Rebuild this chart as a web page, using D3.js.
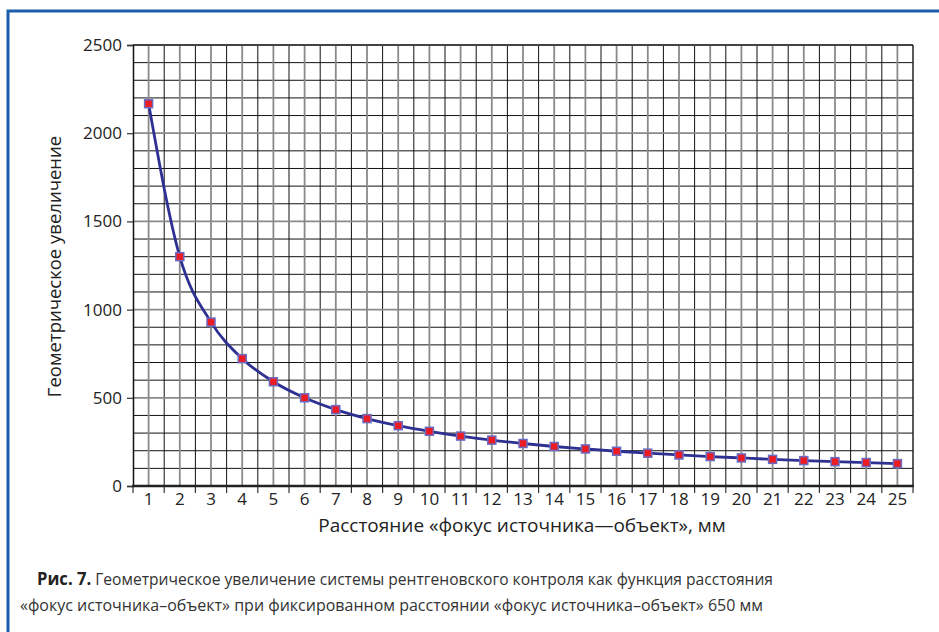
<!DOCTYPE html>
<html><head><meta charset="utf-8">
<script src="https://cdn.jsdelivr.net/npm/d3@7"></script>
<style>
html,body{margin:0;padding:0;background:#fff;}
svg{display:block;}
</style></head>
<body>
<svg id="chart" width="939" height="632"></svg>
<script>
const categories = d3.range(1, 26).map(String);
const magnification = [2167, 1300, 929, 722, 591, 500, 433, 382, 342, 310, 283, 260, 241, 224, 210, 197, 186, 176, 167, 159, 151, 144, 138, 133, 127];
const yTicks = [0, 500, 1000, 1500, 2000, 2500];
const yTitle = "Геометрическое увеличение";
const xTitle = "Расстояние «фокус источника—объект», мм";
const captionBold = "Рис. 7.";
const captionLine1 = " Геометрическое увеличение системы рентгеновского контроля как функция расстояния";
const captionLine2 = "«фокус источника–объект» при фиксированном расстоянии «фокус источника–объект» 650 мм";

const svg = d3.select("#chart");
const L = 133, R = 913, T = 45, B = 486;
const x = d3.scaleBand().domain(categories).range([L, R]).padding(0);
const y = d3.scaleLinear().domain([0, 2500]).range([B, T]);
const cx = d => x(d) + x.bandwidth() / 2;
const FONT = "'Open Sans', sans-serif";

// frame
svg.append("path").attr("d", `M8,640 L8,11 L945,11`).attr("fill", "none")
  .attr("stroke", "#1d5dab").attr("stroke-width", 3);

const g = svg.append("g");
const hvals = d3.range(0, 2501, 100);
g.selectAll("line.h").data(hvals.filter(v => v % 500 !== 0)).join("line")
  .attr("x1", L).attr("x2", R).attr("y1", d => y(d)).attr("y2", d => y(d))
  .attr("stroke", "#111").attr("stroke-width", 1);
const bounds = categories.map(c => x(c)).concat([R]);
g.selectAll("line.vb").data(bounds.slice(1, -1)).join("line")
  .attr("x1", d => d).attr("x2", d => d).attr("y1", T).attr("y2", B)
  .attr("stroke", "#111").attr("stroke-width", 1);
g.selectAll("line.vc").data(categories).join("line")
  .attr("x1", d => cx(d)).attr("x2", d => cx(d)).attr("y1", T).attr("y2", B)
  .attr("stroke", "#8a8a8a").attr("stroke-width", 1.8);
g.selectAll("line.hm").data(yTicks.filter(v => v !== 0 && v !== 2500)).join("line")
  .attr("x1", L).attr("x2", R).attr("y1", d => y(d)).attr("y2", d => y(d))
  .attr("stroke", "#8a8a8a").attr("stroke-width", 1.8);
g.append("line").attr("x1", L).attr("x2", R).attr("y1", T).attr("y2", T).attr("stroke", "#444").attr("stroke-width", 2);
g.append("line").attr("x1", R).attr("x2", R).attr("y1", T).attr("y2", B).attr("stroke", "#222").attr("stroke-width", 1.5);

// y axis
const yAxis = d3.axisLeft(y).tickValues(yTicks).tickFormat(d3.format("d")).tickSize(6).tickPadding(5);
const ya = svg.append("g").attr("transform", `translate(${L},0)`).call(yAxis);
ya.select(".domain").attr("stroke", "#111").attr("stroke-width", 1.5);
ya.selectAll(".tick line").attr("stroke", "#333").attr("stroke-width", 1.2);
ya.selectAll(".tick text").attr("font-family", FONT).attr("font-size", 17).attr("fill", "#222");

// x axis
const xAxis = d3.axisBottom(x).tickSize(0).tickPadding(7);
const xa = svg.append("g").attr("transform", `translate(0,${B})`).call(xAxis);
xa.select(".domain").remove();
xa.selectAll(".tick text").attr("font-family", FONT).attr("font-size", 17).attr("fill", "#222");
xa.selectAll("line.bt").data(bounds).join("line")
  .attr("x1", d => d).attr("x2", d => d).attr("y1", 0).attr("y2", 7)
  .attr("stroke", "#333").attr("stroke-width", 1.2);
svg.append("line").attr("x1", L - 1).attr("x2", R + 1).attr("y1", B).attr("y2", B)
  .attr("stroke", "#222").attr("stroke-width", 2.5);

// titles
svg.append("text").attr("transform", `translate(61,${(T + B) / 2 + 1}) rotate(-90)`)
  .attr("text-anchor", "middle").attr("font-family", FONT).attr("font-size", 18.5)
  .attr("fill", "#222").text(yTitle);
svg.append("text").attr("x", 522).attr("y", 532).attr("text-anchor", "middle")
  .attr("font-family", FONT).attr("font-size", 19).attr("fill", "#222").text(xTitle);

// line
const line = d3.line().x((d, i) => cx(categories[i])).y(d => y(d)).curve(d3.curveMonotoneX);
svg.append("path").datum(magnification).attr("d", line).attr("fill", "none")
  .attr("stroke", "#2e3192").attr("stroke-width", 2.8);
const s = 8;
svg.selectAll("rect.pt").data(magnification).join("rect")
  .attr("x", (d, i) => cx(categories[i]) - s / 2).attr("y", d => y(d) - s / 2)
  .attr("width", s).attr("height", s)
  .attr("fill", "#ec1c24").attr("stroke", "#6b6bc4").attr("stroke-width", 1.5);

// caption
const c1 = svg.append("text").attr("x", 37).attr("y", 585)
  .attr("font-family", FONT).attr("font-size", 16).attr("fill", "#333")
  .attr("textLength", 736).attr("lengthAdjust", "spacingAndGlyphs");
c1.append("tspan").attr("font-weight", "bold").attr("font-size", 17).attr("fill", "#222").text(captionBold);
c1.append("tspan").text(captionLine1);
svg.append("text").attr("x", 20).attr("y", 611)
  .attr("font-family", FONT).attr("font-size", 16).attr("fill", "#333")
  .attr("textLength", 743).attr("lengthAdjust", "spacingAndGlyphs").text(captionLine2);
</script>
</body></html>
